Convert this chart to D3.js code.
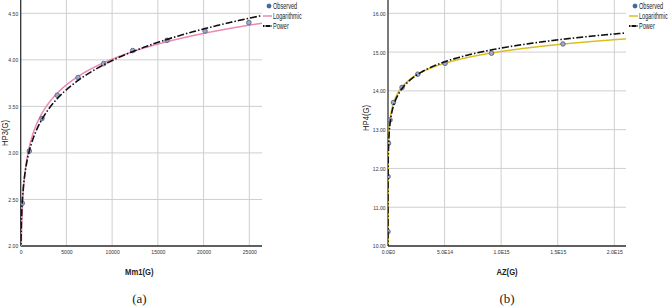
<!DOCTYPE html>
<html>
<head>
<meta charset="utf-8">
<script src="https://cdn.jsdelivr.net/npm/d3@7"></script>
<style>
  body { margin: 0; background: #fff; }
  svg { display: block; }
  text { font-family: "Liberation Sans", Arial, sans-serif; fill: #222; }
  .grid line { stroke: #cfcfcf; stroke-width: 1; }
  .tick text { font-size: 6.2px; fill: #333; }
  .caption { font-family: "Liberation Serif", "DejaVu Serif", serif; font-size: 13px; }
</style>
</head>
<body>
<svg width="669" height="307"></svg>
<script>
// panel (a): Mm1(G) vs HP3(G)
const mmX = [175, 940, 2330, 4000, 6270, 9080, 12250, 16000, 20160, 24950];
const hp3Y = [2.46, 3.02, 3.37, 3.62, 3.81, 3.96, 4.10, 4.21, 4.31, 4.40];
const xTicksA = [0, 5000, 10000, 15000, 20000, 25000];
const yTicksA = [2.0, 2.5, 3.0, 3.5, 4.0, 4.5];

// panel (b): AZ(G) vs HP4(G)
const azX = [2.6e10, 6e11, 4.6e12, 1.8e13, 4.8e13, 1.24e14, 2.63e14, 5.04e14, 9.15e14, 1.546e15];
const hp4Y = [10.37, 11.79, 12.65, 13.25, 13.70, 14.09, 14.43, 14.71, 14.97, 15.21];
const xTicksB = [0, 5e14, 1e15, 1.5e15, 2e15];
const xTickLabelsB = ['0.0E0', '5.0E14', '1.0E15', '1.5E15', '2.0E15'];
const yTicksB = [10, 11, 12, 13, 14, 15, 16];

const legendNames = ['Observed', 'Logarithmic', 'Power'];

const svg = d3.select('svg');

// least squares on (ln x, y) and (ln x, ln y)
function linfit(xs, ys) {
  const mx = d3.mean(xs), my = d3.mean(ys);
  const b = d3.sum(xs, (x, i) => (x - mx) * (ys[i] - my)) / d3.sum(xs, x => (x - mx) * (x - mx));
  return {a: my - b * mx, b: b};
}

function panel(o) {
  const g = svg.append('g');
  const x = d3.scaleLinear().domain(o.xDomain).range([o.left, o.xEnd]);
  const y = d3.scaleLinear().domain(o.yDomain).range([o.bottom, o.yEnd]);

  const clipId = 'clip' + o.key;
  svg.append('clipPath').attr('id', clipId).append('rect')
    .attr('x', o.left).attr('y', o.top).attr('width', o.right - o.left).attr('height', o.bottom - o.top);

  // grid
  const grid = g.append('g').attr('class', 'grid');
  grid.selectAll('.h').data(o.yTicks).join('line')
    .attr('x1', o.left).attr('x2', o.right).attr('y1', d => y(d)).attr('y2', d => y(d));
  grid.selectAll('.v').data(o.xTicks.slice(1)).join('line')
    .attr('x1', d => x(d)).attr('x2', d => x(d)).attr('y1', o.top).attr('y2', o.bottom);

  // axes (narrow look: squeeze the labels horizontally)
  const xAxis = g.append('g').attr('transform', `translate(0,${o.bottom})`)
    .call(d3.axisBottom(x).tickValues(o.xTicks).tickFormat((d, i) => o.xFmt(d, i)).tickSize(0).tickPadding(4));
  xAxis.select('.domain').remove();
  xAxis.selectAll('text').attr('transform', 'scale(0.82,1)');
  const yAxis = g.append('g').attr('transform', `translate(${o.left},0)`)
    .call(d3.axisLeft(y).tickValues(o.yTicks).tickFormat(d3.format('.2f')).tickSize(0).tickPadding(3));
  yAxis.select('.domain').remove();
  yAxis.selectAll('text').attr('transform', 'scale(0.82,1)');
  g.append('line').attr('x1', o.left).attr('x2', o.left).attr('y1', o.top).attr('y2', o.bottom)
    .attr('stroke', '#333').attr('stroke-width', 1.3);
  g.append('line').attr('x1', o.left).attr('x2', o.right).attr('y1', o.bottom).attr('y2', o.bottom)
    .attr('stroke', '#333').attr('stroke-width', 1.3);

  // fits
  const lx = o.xs.map(Math.log);
  const logFit = linfit(lx, o.ys);
  const powFit = linfit(lx, o.ys.map(Math.log));
  const xmax = x.invert(o.right);
  const samples = d3.range(0, 201).map(i => xmax * Math.pow(10, -12 * (1 - i / 200)))
    .concat(d3.range(1, 301).map(i => xmax * i / 300));
  samples.sort((a, b) => a - b);
  const logLine = d3.line().x(d => x(d)).y(d => y(Math.max(logFit.a + logFit.b * Math.log(d), o.yDomain[0] - 1)));
  const powLine = d3.line().x(d => x(d)).y(d => y(Math.exp(powFit.a) * Math.pow(d, powFit.b)));

  const plot = g.append('g').attr('clip-path', `url(#${clipId})`);
  plot.append('path').datum(samples).attr('d', logLine)
    .attr('fill', 'none').attr('stroke', o.logColor).attr('stroke-width', 1.5);
  plot.selectAll('circle').data(o.xs).join('circle')
    .attr('cx', d => x(d)).attr('cy', (d, i) => y(o.ys[i])).attr('r', 2.3)
    .attr('fill', '#9ea8cc').attr('stroke', '#555a78').attr('stroke-width', 0.8);
  plot.append('path').datum(samples).attr('d', powLine)
    .attr('fill', 'none').attr('stroke', '#111').attr('stroke-width', 1.6)
    .attr('stroke-dasharray', '7,2,1.5,2');

  // titles
  const cx = (o.left + o.right) / 2 + o.titleDx;
  g.append('text').attr('transform', `translate(${cx},275) scale(0.85,1)`)
    .attr('text-anchor', 'middle').attr('font-size', 9).attr('font-weight', 'bold').text(o.xTitle);
  g.append('text').attr('transform', `translate(${o.yTitleX},${o.yTitleY}) rotate(-90) scale(0.9,1)`)
    .attr('text-anchor', 'middle').attr('font-size', 8.5).text(o.yTitle);
  g.append('text').attr('class', 'caption').attr('x', cx).attr('y', 303)
    .attr('text-anchor', 'middle').text(o.caption);

  // legend
  const lg = g.append('g').attr('transform', `translate(${o.legX},0)`);
  lg.append('circle').attr('cx', 6).attr('cy', 6).attr('r', 2)
    .attr('fill', '#3c6db3').attr('stroke', '#25457a').attr('stroke-width', 0.7);
  lg.append('line').attr('x1', 0).attr('x2', 9).attr('y1', 16).attr('y2', 16)
    .attr('stroke', o.logColor).attr('stroke-width', 1.5);
  lg.append('line').attr('x1', 0).attr('x2', 9).attr('y1', 26).attr('y2', 26)
    .attr('stroke', '#111').attr('stroke-width', 1.8).attr('stroke-dasharray', '1.5,1,5,1');
  lg.append('g').attr('transform', 'translate(10,0) scale(0.64,1)')
    .selectAll('text').data(legendNames).join('text')
    .attr('x', 0).attr('y', (d, i) => 9 + i * 10).attr('font-size', 8.7).text(d => d);
}

panel({
  key: 'a', xs: mmX, ys: hp3Y,
  xDomain: [0, 25000], xTicks: xTicksA, xFmt: d => d3.format('d')(d),
  yDomain: [2, 4.5], yTicks: yTicksA,
  left: 20.7, xEnd: 249.3, right: 262, bottom: 246, yEnd: 13.3, top: 0,
  logColor: '#ec88b6', xTitle: 'Mm1(G)', yTitle: 'HP3(G)', caption: '(a)', titleDx: -2,
  yTitleX: 8, yTitleY: 133, legX: 263
});

panel({
  key: 'b', xs: azX, ys: hp4Y,
  xDomain: [0, 2e15], xTicks: xTicksB, xFmt: (d, i) => xTickLabelsB[i],
  yDomain: [10, 16], yTicks: yTicksB,
  left: 388, xEnd: 614.3, right: 626, bottom: 246, yEnd: 13.3, top: 0,
  logColor: '#dcbf1e', xTitle: 'AZ(G)', yTitle: 'HP4(G)', caption: '(b)', titleDx: 0,
  yTitleX: 369, yTitleY: 118, legX: 629
});
</script>
</body>
</html>
